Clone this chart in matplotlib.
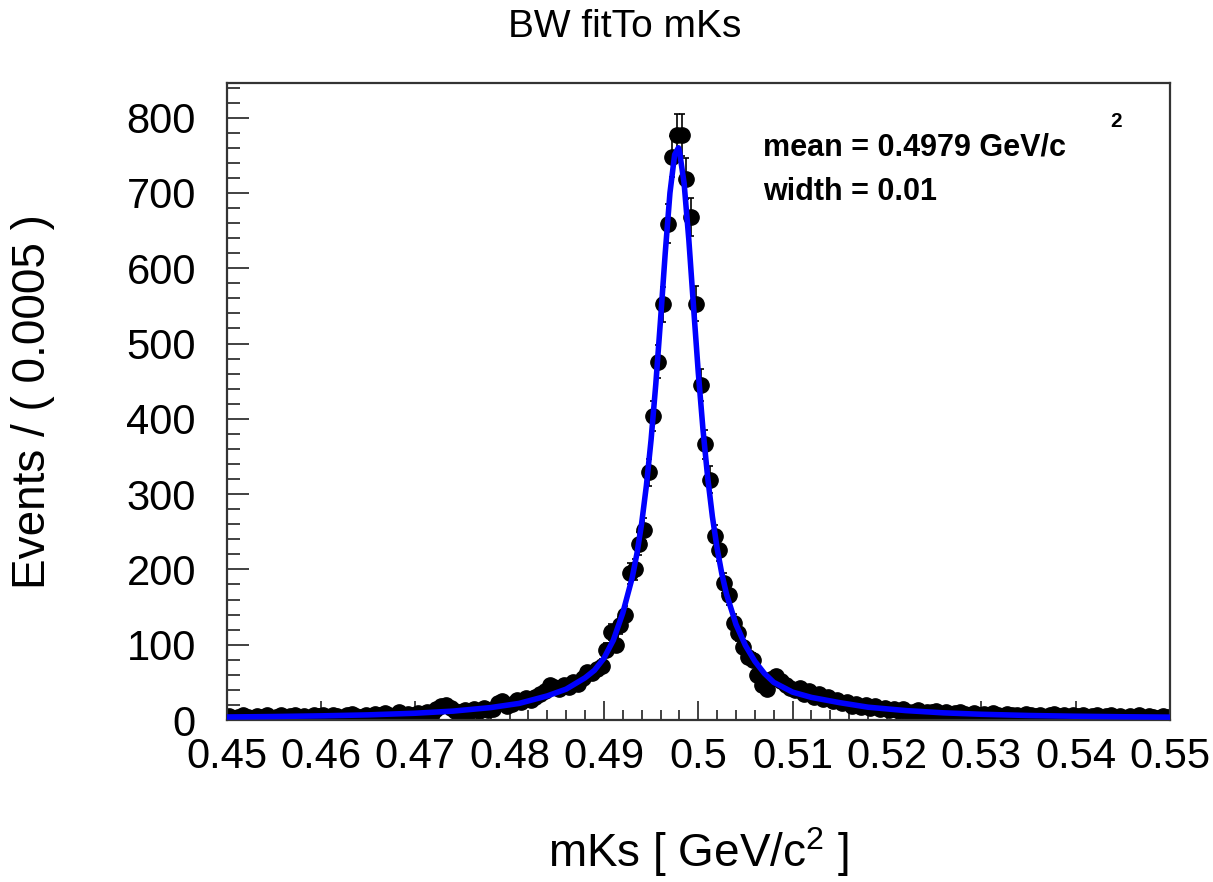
"""BW fit to the mKs peak, redrawn in the style of a RooFit frame."""
import matplotlib
matplotlib.use("Agg")
import matplotlib.pyplot as plt
import numpy as np
from matplotlib.ticker import MultipleLocator

plt.rcParams["font.family"] = ["Liberation Sans", "DejaVu Sans"]
plt.rcParams["mathtext.fontset"] = "custom"
plt.rcParams["mathtext.rm"] = "Liberation Sans"

# binning: 200 bins of 0.0005 between 0.45 and 0.55
x_lo, x_hi, bin_w = 0.45, 0.55, 0.0005

# events per bin (bin 0 .. 199)
counts = [
    5, 3, 4, 6, 4, 3, 5, 4, 6, 3,
    4, 6, 3, 5, 7, 4, 5, 3, 6, 5,
    6, 4, 7, 5, 3, 6, 8, 5, 4, 7,
    5, 8, 6, 9, 7, 5, 10, 7, 8, 6,
    9, 7, 11, 8, 14, 18, 20, 16, 12, 10,
    13, 10, 14, 12, 16, 13, 15, 22, 25, 19,
    21, 26, 24, 29, 27, 31, 34, 38, 46, 44,
    41, 47, 44, 50, 48, 56, 64, 62, 68, 72,
    93, 117, 100, 126, 140, 195, 200, 234, 253, 329,
    404, 476, 552, 659, 748, 777, 777, 719, 668, 553, 445,
    366, 319, 244, 226, 182, 166, 129, 116, 97, 84,
    80, 60, 46, 41, 55, 58, 52, 47, 43, 40,
    42, 35, 38, 31, 34, 28, 30, 25, 27, 22,
    24, 19, 21, 17, 20, 16, 18, 14, 16, 13,
    15, 12, 14, 11, 10, 13, 9, 11, 10, 12,
    8, 10, 7, 9, 11, 8, 6, 9, 7, 8,
    6, 9, 7, 5, 8, 6, 7, 5, 8, 6,
    5, 7, 4, 6, 8, 5, 6, 4, 7, 5,
    6, 4, 5, 7, 3, 5, 6, 4, 5, 3,
    5, 4, 6, 3, 5, 4, 3, 5, 4,
]

# fitted Breit-Wigner curve as drawn
curve_x = [0.450, 0.455, 0.460, 0.465, 0.470, 0.474, 0.478, 0.481, 0.484,
           0.486, 0.488, 0.489, 0.490, 0.491, 0.492, 0.493, 0.4935, 0.494,
           0.4945, 0.495, 0.4955, 0.496, 0.4965, 0.497, 0.4975, 0.4979,
           0.498, 0.4985, 0.499, 0.4995, 0.500, 0.5005, 0.501, 0.5015,
           0.502, 0.5025, 0.503, 0.504, 0.505, 0.506, 0.507, 0.508, 0.510,
           0.512, 0.515, 0.518, 0.522, 0.526, 0.530, 0.535, 0.540, 0.545,
           0.550]
curve_y = [4.0, 4.6, 5.5, 6.8, 9.0, 11.8, 16.5, 22, 32,
           41, 56, 66, 82, 106, 142, 189, 221, 261,
           311, 372, 446, 531, 620, 700, 751, 760,
           756, 713, 638, 549, 462, 386, 322, 270,
           228, 194, 167, 127, 99, 78, 62, 50, 37,
           30, 23, 17, 12.5, 9.5, 7.6, 6.0, 5.0, 4.3,
           3.8]

mean_txt = "mean = 0.4979 GeV/c"
width_txt = "width = 0.01"

counts = np.array(counts, dtype=float)
centers = x_lo + bin_w * (np.arange(len(counts)) + 0.5)
errs = np.sqrt(counts)

fig = plt.figure(figsize=(12.13, 8.82), dpi=100)
ax = fig.add_axes([226.5 / 1213, 1 - 720 / 882, 943.5 / 1213, 637 / 882])

ax.errorbar(centers, counts, yerr=errs, fmt="o", color="black",
            markersize=11, elinewidth=1.2, capsize=2.5, capthick=1.2,
            zorder=2)
ax.plot(curve_x, curve_y, color="#0000ff", lw=4, zorder=3)

ax.set_xlim(x_lo, x_hi)
ax.set_ylim(0, 846)
ax.xaxis.set_major_locator(MultipleLocator(0.01))
ax.xaxis.set_minor_locator(MultipleLocator(0.002))
ax.yaxis.set_major_locator(MultipleLocator(100))
ax.yaxis.set_minor_locator(MultipleLocator(20))
ax.set_xticks(np.arange(0.45, 0.5501, 0.01))
ax.set_xticklabels(["0.45", "0.46", "0.47", "0.48", "0.49", "0.5",
                    "0.51", "0.52", "0.53", "0.54", "0.55"])

ax.tick_params(which="both", direction="in", top=False, right=False,
               labelsize=30, width=1.3, color="#333333")
ax.tick_params(axis="x", which="major", length=14, pad=12)
ax.tick_params(axis="x", which="minor", length=7)
ax.tick_params(axis="y", which="major", length=16, pad=22)
ax.tick_params(axis="y", which="minor", length=9)
for s in ax.spines.values():
    s.set_linewidth(1.6)
    s.set_color("#333333")

ax.set_xlabel(r"mKs [ GeV/c$^{2}$ ]", fontsize=33)
ax.xaxis.label.set_va("center")
ax.xaxis.set_label_coords(0.5, -0.208)
ax.set_ylabel("Events / ( 0.0005 )", fontsize=33)
ax.yaxis.label.set_va("center")
ax.yaxis.set_label_coords(-0.205, 0.5)

fig.text(625 / 1213, 1 - 37 / 882, "BW fitTo mKs", fontsize=28,
         ha="center", va="baseline")
fig.text(763 / 1213, 1 - 155 / 882, mean_txt, fontsize=22,
         fontweight="bold", ha="left", va="baseline")
fig.text(1110 / 1213, 1 - 127 / 882, "2", fontsize=15,
         fontweight="bold", ha="left", va="baseline")
fig.text(763 / 1213, 1 - 200 / 882, width_txt, fontsize=22,
         fontweight="bold", ha="left", va="baseline")

fig.savefig("out.png", dpi=100)
